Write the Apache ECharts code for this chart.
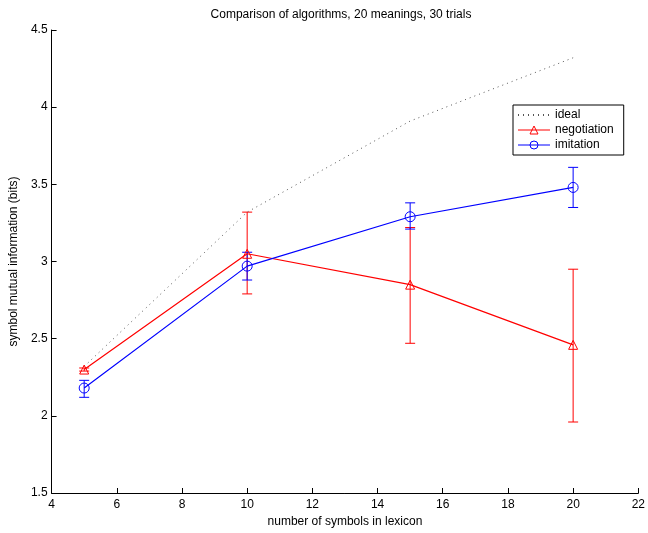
<!DOCTYPE html>
<html>
<head>
<meta charset="utf-8">
<script src="https://cdn.jsdelivr.net/npm/echarts@6/dist/echarts.min.js"></script>
<style>
  html, body { margin: 0; padding: 0; background: #fff; }
  #chart { width: 648px; height: 533px; }
</style>
</head>
<body>
<div id="chart"></div>
<script>
// values
const symbols = [5, 10, 15, 20]
const ideal = [2.32, 3.32, 3.91, 4.32]
const negotiation = [2.30, 3.05, 2.85, 2.46]
const negotiationLow = [2.29, 2.79, 2.47, 1.96]
const negotiationHigh = [2.31, 3.32, 3.22, 2.95]
const imitation = [2.18, 2.97, 3.29, 3.48]
const imitationLow = [2.12, 2.88, 3.21, 3.35]
const imitationHigh = [2.23, 3.06, 3.38, 3.61]

const font = 'Liberation Sans, Arial, Helvetica, sans-serif'

function pairs(ys) {
  return symbols.map((x, i) => [x, ys[i]])
}

function errData(low, high) {
  return symbols.map((x, i) => [x, low[i], high[i]])
}

function errorBars(color) {
  return function(params, api) {
    const x = api.value(0)
    const lo = api.coord([x, api.value(1)])
    const hi = api.coord([x, api.value(2)])
    const half = 5
    const style = { stroke: color, lineWidth: 1 }
    return {
      type: 'group',
      children: [
        { type: 'line', shape: { x1: lo[0], y1: lo[1], x2: hi[0], y2: hi[1] }, style },
        { type: 'line', shape: { x1: hi[0] - half, y1: hi[1], x2: hi[0] + half, y2: hi[1] }, style },
        { type: 'line', shape: { x1: lo[0] - half, y1: lo[1], x2: lo[0] + half, y2: lo[1] }, style }
      ]
    }
  }
}

const hollow = c => ({ color: 'rgba(0,0,0,0)', borderColor: c, borderWidth: 1 })

const chart = echarts.init(document.getElementById('chart'))

chart.setOption({
  animation: false,
  textStyle: { fontFamily: font },
  title: {
    text: 'Comparison of algorithms, 20 meanings, 30 trials',
    left: 336,
    top: 4,
    textAlign: 'center',
    textStyle: { fontSize: 12, fontWeight: 'normal', color: '#000', fontFamily: font }
  },
  legend: {
    orient: 'vertical',
    left: 513,
    top: 105,
    padding: [4, 10, 4, 4],
    itemGap: 3,
    itemWidth: 32,
    itemHeight: 10,
    borderColor: '#000',
    borderWidth: 1,
    backgroundColor: '#fff',
    textStyle: { fontSize: 12, color: '#000', fontFamily: font },
    data: [
      { name: 'ideal', itemStyle: { opacity: 0 } },
      { name: 'negotiation', itemStyle: hollow('#ff0000'), lineStyle: { width: 1 } },
      { name: 'imitation', itemStyle: hollow('#0000ff'), lineStyle: { width: 1 } }
    ]
  },
  grid: { left: 48, right: 6, top: 30, bottom: 35 },
  xAxis: {
    type: 'value',
    min: 4,
    max: 22,
    interval: 2,
    name: 'number of symbols in lexicon',
    nameLocation: 'middle',
    nameGap: 23,
    nameTextStyle: { fontSize: 12, color: '#000', fontFamily: font },
    axisLine: { onZero: false, lineStyle: { color: '#000', width: 1 } },
    axisTick: { inside: true, length: 5, lineStyle: { color: '#000' } },
    axisLabel: { fontSize: 12, color: '#000', margin: 6, showMaxLabel: true },
    splitLine: { show: false }
  },
  yAxis: {
    type: 'value',
    min: 1.5,
    max: 4.5,
    interval: 0.5,
    name: 'symbol mutual information (bits)',
    nameLocation: 'middle',
    nameGap: 30,
    nameRotate: 90,
    nameTextStyle: { fontSize: 12, color: '#000', fontFamily: font },
    axisLine: { show: true, onZero: false, lineStyle: { color: '#000', width: 1 } },
    axisTick: { show: true, inside: true, length: 5, lineStyle: { color: '#000' } },
    axisLabel: { fontSize: 12, color: '#000', margin: 4 },
    splitLine: { show: false }
  },
  series: [
    {
      name: 'ideal',
      type: 'line',
      data: pairs(ideal),
      symbol: 'none',
      color: '#000',
      lineStyle: { color: '#555', width: 1, type: [1, 4] }
    },
    {
      name: 'negotiation',
      type: 'line',
      data: pairs(negotiation),
      symbol: 'triangle',
      symbolSize: 9,
      color: '#ff0000',
      itemStyle: hollow('#ff0000'),
      lineStyle: { color: '#ff0000', width: 1.2 },
      z: 3
    },
    {
      name: 'negotiation',
      type: 'custom',
      renderItem: errorBars('#ff0000'),
      data: errData(negotiationLow, negotiationHigh),
      color: '#ff0000',
      z: 2
    },
    {
      name: 'imitation',
      type: 'line',
      data: pairs(imitation),
      symbol: 'circle',
      symbolSize: 10,
      color: '#0000ff',
      itemStyle: hollow('#0000ff'),
      lineStyle: { color: '#0000ff', width: 1.2 },
      z: 3
    },
    {
      name: 'imitation',
      type: 'custom',
      renderItem: errorBars('#0000ff'),
      data: errData(imitationLow, imitationHigh),
      color: '#0000ff',
      z: 2
    }
  ]
})
</script>
</body>
</html>
